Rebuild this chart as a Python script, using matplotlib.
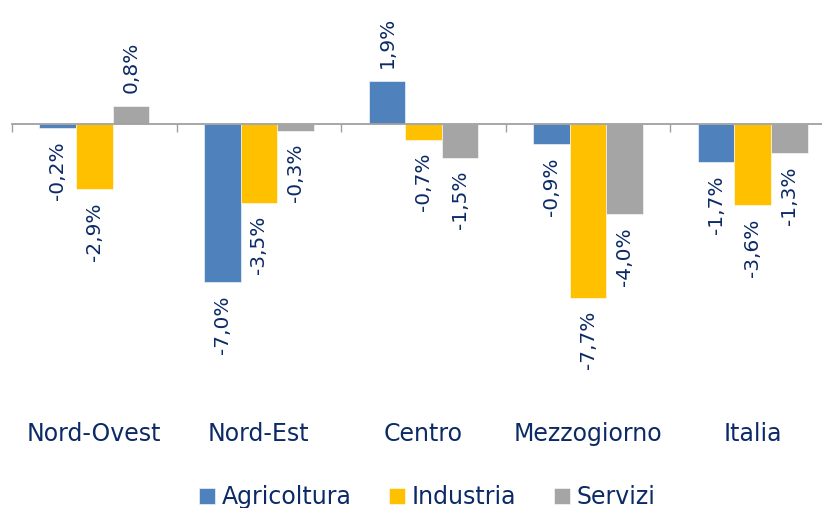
import matplotlib
matplotlib.use("Agg")
import matplotlib.pyplot as plt
import numpy as np

categories = ["Nord-Ovest", "Nord-Est", "Centro", "Mezzogiorno", "Italia"]
series_names = ["Agricoltura", "Industria", "Servizi"]
agricoltura = [-0.2, -7.0, 1.9, -0.9, -1.7]
industria = [-2.9, -3.5, -0.7, -7.7, -3.6]
servizi = [0.8, -0.3, -1.5, -4.0, -1.3]
colors = ["#4F81BD", "#FFC000", "#A5A5A5"]
text_color = "#0B2A66"

plt.rcParams['font.family'] = ['DejaVu Sans']

W, H = 822, 508
fig = plt.figure(figsize=(W / 100, H / 100), dpi=100)
ax_left, ax_right = 12, 835
ax_top, ax_bottom = 0, 400
ax = fig.add_axes([ax_left / W, 1 - ax_bottom / H, (ax_right - ax_left) / W, (ax_bottom - ax_top) / H])

px_per_unit = 22.6
zero_px = 123.8
ymax = (zero_px - ax_top) / px_per_unit
ymin = -(ax_bottom - zero_px) / px_per_unit
ax.set_ylim(ymin, ymax)
ax.set_xlim(-0.5, len(categories) - 0.5)

x = np.arange(len(categories))
bw = 0.222
all_series = [agricoltura, industria, servizi]
for i, (vals, c, name) in enumerate(zip(all_series, colors, series_names)):
    xs = x + (i - 1) * bw
    ax.bar(xs, vals, width=bw, color=c, label=name, edgecolor="white", linewidth=0.4, zorder=2)
    for xv, v in zip(xs, vals):
        lab = f"{v:.1f}%".replace(".", ",")
        if v >= 0:
            ax.annotate(lab, (xv, v), xytext=(0, 9), textcoords="offset points",
                        rotation=90, ha="center", va="bottom", fontsize=14.5, color=text_color)
        else:
            ax.annotate(lab, (xv, v), xytext=(0, -9.5), textcoords="offset points",
                        rotation=90, ha="center", va="top", fontsize=14.5, color=text_color)

for s in ["top", "right", "left"]:
    ax.spines[s].set_visible(False)
ax.spines["bottom"].set_position(("data", 0))
ax.spines["bottom"].set_color("#A0A0A0")
ax.spines["bottom"].set_linewidth(1.3)
ax.spines["bottom"].set_zorder(3)
ax.set_yticks([])
ax.set_xticks(np.arange(-0.5, len(categories), 1.0))
ax.tick_params(axis="x", direction="out", length=6, width=1, color="#A0A0A0", labelbottom=False)

for xi, cat in zip(x, categories):
    ax.text(xi, 1 - 441 / H, cat, transform=ax.get_xaxis_transform() if False else
            matplotlib.transforms.blended_transform_factory(ax.transData, fig.transFigure),
            ha="center", va="baseline", fontsize=17, color=text_color)

leg = fig.legend(loc="center", bbox_to_anchor=(0.52, 1 - 497 / H), ncol=3, frameon=False,
                 fontsize=17, handlelength=0.65, handleheight=0.65, handletextpad=0.3,
                 columnspacing=1.6, borderpad=0)
for t in leg.get_texts():
    t.set_color(text_color)

fig.savefig("out.png", dpi=100)
